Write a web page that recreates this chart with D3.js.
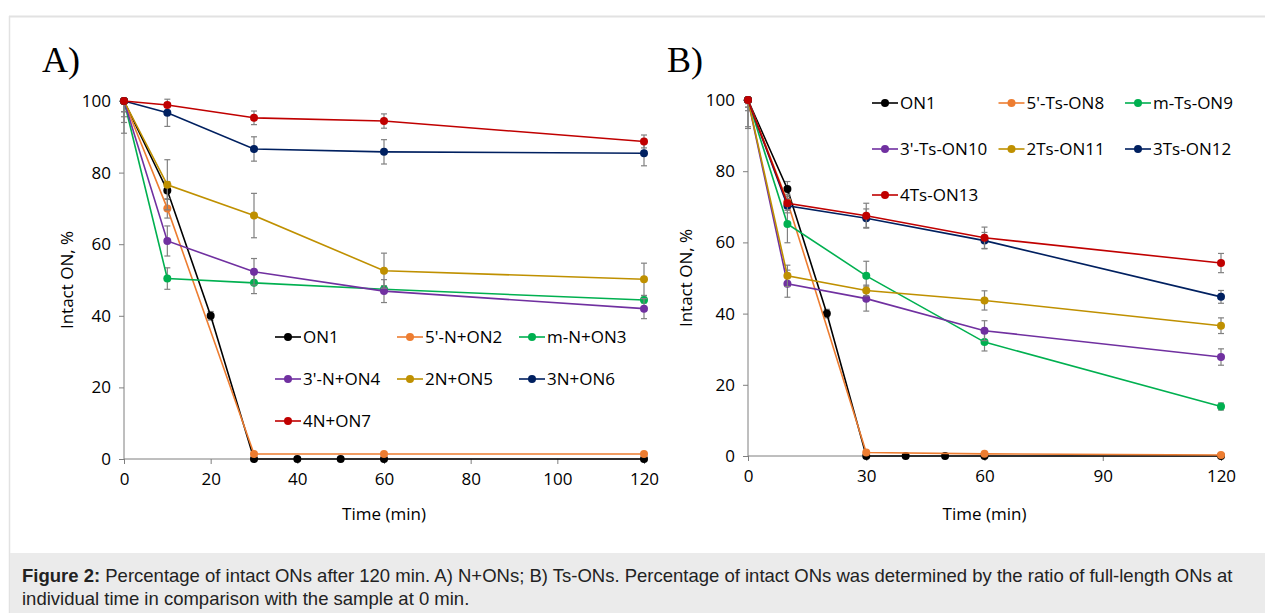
<!DOCTYPE html>
<html>
<head>
<meta charset="utf-8">
<script src="https://cdn.jsdelivr.net/npm/d3@7"></script>
<style>
  body { margin: 0; background: #fff; }
  svg { display: block; }
</style>
</head>
<body>
<div id="chart"></div>
<script>
// time points
var timesOn1 = [0, 10, 20, 30, 40, 50, 60, 120];
var times = [0, 10, 30, 60, 120];

// panel A: N+ONs
var namesA = ["ON1", "5'-N+ON2", "m-N+ON3", "3'-N+ON4", "2N+ON5", "3N+ON6", "4N+ON7"];
var valuesA = [
  [100, 75, 40, 0, 0, 0, 0, 0],
  [100, 70, 1.4, 1.4, 1.4],
  [100, 50.4, 49.2, 47.4, 44.4],
  [100, 60.9, 52.3, 46.9, 42],
  [100, 76.6, 68, 52.6, 50.2],
  [100, 96.7, 86.6, 85.8, 85.4],
  [100, 98.9, 95.3, 94.4, 88.7]
];
var errorsA = [
  [3, 2.5, 1.2, 0, 0, 0, 0, 0],
  [4.4, 2.7, 0, 0, 0],
  [9, 3, 3, 1, 0.8],
  [3, 4.2, 3.7, 3.2, 2.8],
  [6, 7, 6.2, 4.9, 4.5],
  [0.5, 3.8, 3.4, 3.4, 3.5],
  [0.5, 0.5, 1.9, 2, 1.8]
];

// panel B: Ts-ONs
var namesB = ["ON1", "5'-Ts-ON8", "m-Ts-ON9", "3'-Ts-ON10", "2Ts-ON11", "3Ts-ON12", "4Ts-ON13"];
var valuesB = [
  [100, 75, 40, 0, 0, 0, 0, 0],
  [100, 71.5, 1, 0.6, 0.3],
  [100, 65.2, 50.6, 32, 13.9],
  [100, 48.4, 44.2, 35.2, 27.8],
  [100, 50.6, 46.5, 43.7, 36.6],
  [100, 70.3, 66.8, 60.5, 44.7],
  [100, 71, 67.5, 61.3, 54.2]
];
var errorsB = [
  [3, 2.1, 1.2, 0, 0, 0, 0, 0],
  [8, 2, 0, 0, 0],
  [2, 5.3, 4.1, 2.5, 1],
  [2, 3.8, 3.5, 2.8, 2.3],
  [7.5, 3, 1.5, 2.7, 2.2],
  [1, 2, 2.6, 2.3, 1.8],
  [1, 2, 3.5, 3, 2.7]
];

var colors = ["#000000", "#ED7D31", "#00B050", "#7030A0", "#BF9000", "#002060", "#C00000"];
var ticksA = [0, 20, 40, 60, 80, 100, 120];
var ticksB = [0, 30, 60, 90, 120];
var yTicks = [0, 20, 40, 60, 80, 100];

var W = 1265, H = 613;
var font = "'Open Sans', 'DejaVu Sans', sans-serif";

var svg = d3.select("#chart").append("svg")
  .attr("width", W)
  .attr("height", H);

// frame
svg.append("line")
  .attr("x1", 9).attr("x2", W).attr("y1", 16.5).attr("y2", 16.5)
  .attr("stroke", "#e2e2e2").attr("stroke-width", 2);
svg.append("line")
  .attr("x1", 9.5).attr("x2", 9.5).attr("y1", 16).attr("y2", H)
  .attr("stroke", "#e2e2e2").attr("stroke-width", 1.5);
svg.append("rect")
  .attr("x", 10).attr("y", 553).attr("width", W - 10).attr("height", H - 553)
  .attr("fill", "#ebebeb");

var cap = svg.append("g")
  .style("font-family", "'Liberation Sans', Arial, sans-serif")
  .style("font-size", "18.5px")
  .attr("fill", "#222");
var t1 = cap.append("text").attr("x", 22).attr("y", 582);
t1.append("tspan").attr("font-weight", "bold").text("Figure 2:");
t1.append("tspan").text(" Percentage of intact ONs after 120 min. A) N+ONs; B) Ts-ONs. Percentage of intact ONs was determined by the ratio of full-length ONs at");
cap.append("text").attr("x", 22).attr("y", 605)
  .text("individual time in comparison with the sample at 0 min.");

function panel(opt) {
  var x = d3.scaleLinear().domain([0, 120]).range([opt.x0, opt.x1]);
  var y = d3.scaleLinear().domain([0, 100]).range([opt.y0, opt.y1]);
  var g = svg.append("g");

  // panel letter
  g.append("text")
    .attr("x", opt.lx).attr("y", 72)
    .style("font-family", "'Liberation Serif', 'DejaVu Serif', serif")
    .style("font-size", "36px")
    .text(opt.letter);

  // axes
  var yAxis = d3.axisLeft(y).tickValues(yTicks).tickSize(5).tickPadding(8);
  var xAxis = d3.axisBottom(x).tickValues(opt.xticks).tickSize(5).tickPadding(9);

  g.append("g")
    .attr("transform", "translate(" + opt.x0 + ",0)")
    .call(yAxis)
    .call(a => a.select(".domain").attr("stroke", "#7f7f7f").attr("d", "M-5," + opt.y1 + "H0V" + opt.y0))
    .call(a => a.selectAll(".tick line").attr("stroke", "#7f7f7f"))
    .call(a => a.selectAll(".tick text").attr("fill", "#000")
      .style("font-family", font).style("font-size", "17px"));

  g.append("g")
    .attr("transform", "translate(0," + opt.y0 + ")")
    .call(xAxis)
    .call(a => a.select(".domain").attr("stroke", "#7f7f7f").attr("d", "M" + opt.x0 + ",0H" + opt.x1))
    .call(a => a.selectAll(".tick line").attr("stroke", "#7f7f7f"))
    .call(a => a.selectAll(".tick text").attr("fill", "#000")
      .style("font-family", font).style("font-size", "17px"));

  // axis titles
  g.append("text")
    .attr("transform", "translate(" + opt.ytx + "," + ((opt.y0 + opt.y1) / 2) + ") rotate(-90)")
    .attr("text-anchor", "middle")
    .attr("dy", "0.35em")
    .style("font-family", font).style("font-size", "17px")
    .text("Intact ON, %");
  g.append("text")
    .attr("x", (opt.x0 + opt.x1) / 2).attr("y", 520)
    .attr("text-anchor", "middle")
    .style("font-family", font).style("font-size", "17px")
    .text("Time (min)");

  var line = d3.line().x(d => x(d.t)).y(d => y(d.v));

  opt.values.forEach(function (vals, i) {
    var ts = i === 0 ? timesOn1 : times;
    var pts = vals.map((v, k) => ({ t: ts[k], v: v, e: opt.errors[i][k] }));
    var s = g.append("g");

    // error bars (only the lower half shows at t=0, it is clipped at 100)
    var eb = s.selectAll(".err")
      .data(pts.filter(d => d.e > 0))
      .join("g")
      .attr("stroke", "#808080")
      .attr("stroke-width", 1.2);
    eb.append("line")
      .attr("x1", d => x(d.t)).attr("x2", d => x(d.t))
      .attr("y1", d => y(d.t === 0 ? d.v : d.v + d.e))
      .attr("y2", d => y(d.v - d.e));
    eb.append("line")
      .attr("x1", d => x(d.t) - 3).attr("x2", d => x(d.t) + 3)
      .attr("y1", d => y(d.v - d.e)).attr("y2", d => y(d.v - d.e));
    eb.filter(d => d.t !== 0).append("line")
      .attr("x1", d => x(d.t) - 3).attr("x2", d => x(d.t) + 3)
      .attr("y1", d => y(d.v + d.e)).attr("y2", d => y(d.v + d.e));

    s.append("path")
      .datum(pts)
      .attr("fill", "none")
      .attr("stroke", colors[i])
      .attr("stroke-width", 1.6)
      .attr("d", line);

    s.selectAll("circle")
      .data(pts)
      .join("circle")
      .attr("cx", d => x(d.t))
      .attr("cy", d => y(d.v))
      .attr("r", 4)
      .attr("fill", colors[i]);
  });

  // legend
  var leg = g.append("g")
    .style("font-family", font).style("font-size", "17px");
  opt.names.forEach(function (name, i) {
    var lx = opt.legX + (i % 3) * opt.legDx;
    var ly = opt.legY + Math.floor(i / 3) * opt.legDy;
    var item = leg.append("g").attr("transform", "translate(" + lx + "," + ly + ")");
    item.append("line").attr("x1", 0).attr("x2", 26).attr("y1", 0).attr("y2", 0)
      .attr("stroke", colors[i]).attr("stroke-width", 1.6);
    item.append("circle").attr("cx", 13).attr("cy", 0).attr("r", 4).attr("fill", colors[i]);
    item.append("text").attr("x", 28).attr("dy", "0.35em").attr("fill", "#000").text(name);
  });
}

panel({
  letter: "A)", lx: 42,
  x0: 124, x1: 644, y0: 459, y1: 101,
  xticks: ticksA, ytx: 67,
  names: namesA, values: valuesA, errors: errorsA,
  legX: 275, legY: 337, legDx: 122, legDy: 42
});

panel({
  letter: "B)", lx: 667,
  x0: 748, x1: 1221, y0: 456, y1: 100,
  xticks: ticksB, ytx: 686,
  names: namesB, values: valuesB, errors: errorsB,
  legX: 872, legY: 103, legDx: 126.5, legDy: 46
});
</script>
</body>
</html>
